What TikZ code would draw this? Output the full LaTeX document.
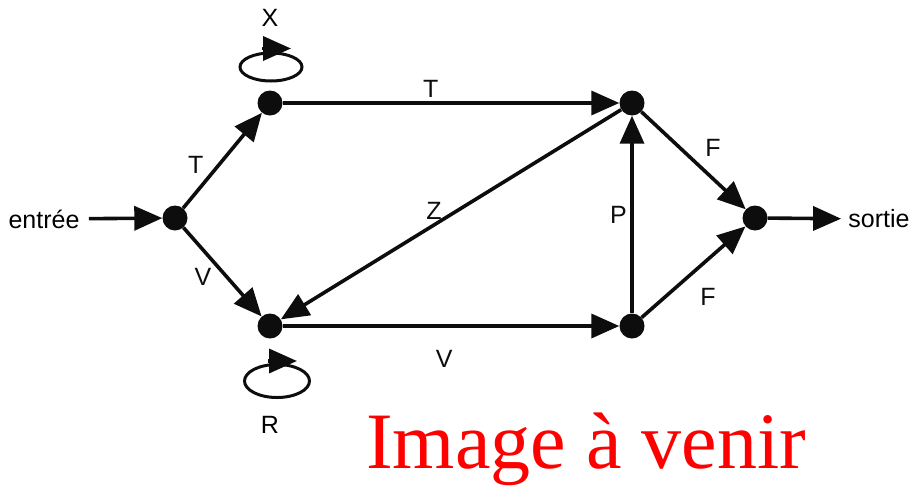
\documentclass[tikz,border=0pt]{standalone}
\usepackage{fontspec}
\setmainfont{Liberation Sans}
\newfontfamily\serifrm{Liberation Serif}
\usetikzlibrary{arrows.meta, positioning, shapes.geometric}
\tikzstyle{etat} = [circle, fill=black!95, minimum size=25pt, inner sep=0pt]
\tikzstyle{arrow} = [line width=3.6pt, black!95, -{Triangle[length=28pt, width=24pt]}]
\tikzstyle{boucle} = [ellipse, draw=black!95, line width=3pt, minimum width=62pt, minimum height=28pt, inner sep=0pt]

\begin{document}
\begin{tikzpicture}[x=1pt, y=-1pt, every node/.style={font=\fontsize{25}{29}\selectfont}]
  \useasboundingbox (0,0) rectangle (912,485);

  % states
  \node[etat] (in) at (175,218) {};
  \node[etat] (hg) at (270,103) {};
  \node[etat] (bg) at (270,326) {};
  \node[etat] (hd) at (632,103) {};
  \node[etat] (bd) at (632,326) {};
  \node[etat] (out) at (755,218) {};
  \node[outer sep=6pt] (entree) at (44,219) {entrée};
  \node[outer sep=4pt] (sortie) at (879,219) {sortie};

  % loops
  \node[boucle] (loopX) at (271,67) {};
  \node[boucle, minimum width=65pt, minimum height=33pt] (loopR) at (277,381) {};
  \node (labX) at (270,18) {X};
  \node (labR) at (270,425) {R};
  \draw[arrow] ([xshift=-9pt,yshift=3pt]loopX.north) -- ([xshift=20pt,yshift=3pt]loopX.north);
  \draw[arrow] ([xshift=-9pt,yshift=2pt]loopR.north) -- ([xshift=20pt,yshift=2pt]loopR.north);

  % transitions
  \draw[arrow] (entree) -- (in);
  \draw[arrow] (in) -- node[left=10pt, pos=0.45]{T} (hg);
  \draw[arrow] (in) -- node[left=10pt, pos=0.55]{V} (bg);
  \draw[arrow] (hg) -- node[above, pos=0.44]{T} (hd);
  \draw[arrow] (bg) -- node[below=19pt, pos=0.48]{V} (bd);
  \draw[arrow] (hd) -- node[above, pos=0.55]{Z} (bg);
  \draw[arrow] (bd) -- node[left]{P} (hd);
  \draw[arrow] (hd) -- node[right=12pt, yshift=8pt, pos=0.45]{F} (out);
  \draw[arrow] (bd) -- node[right=7pt, yshift=-20pt, pos=0.45]{F} (out);
  \draw[arrow] (out) -- (sortie);

  \node[anchor=base, text=red, font=\serifrm\fontsize{80}{90}\selectfont] (avenir) at (586,468) {Image à venir};
\end{tikzpicture}
\end{document}
